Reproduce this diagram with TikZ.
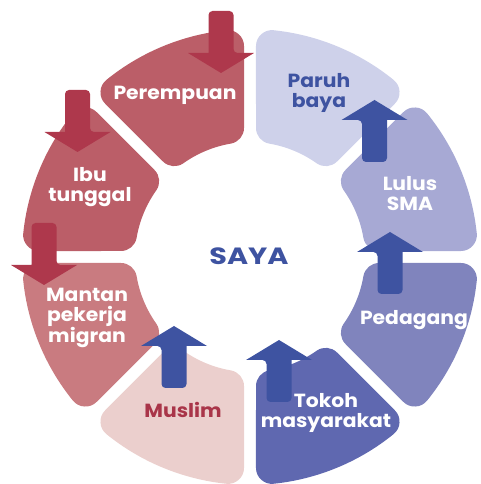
\documentclass[tikz,border=0pt]{standalone}
\usepackage{fontspec}
\setmainfont{Poppins}
\definecolor{redA}{HTML}{BB5E68}
\definecolor{redB}{HTML}{C97B80}
\definecolor{redC}{HTML}{EBCFCD}
\definecolor{redArrow}{HTML}{AE384C}
\definecolor{redText}{HTML}{A93549}
\definecolor{blueA}{HTML}{CED1EA}
\definecolor{blueB}{HTML}{A7A9D4}
\definecolor{blueC}{HTML}{8084BD}
\definecolor{blueD}{HTML}{5F68B0}
\definecolor{blueArrow}{HTML}{3E53A1}
% ring geometry: outer/inner radius already reduced by the corner radius (16),
% radial edges pushed in by half the gap (6) plus the corner radius
\def\ro{212}
\def\ri{131}
\def\offs{22}
% one rounded ring sector between two angles
\newcommand\ringseg[3]{%
  \path[seg=#1] ({#2+asin(\offs/\ro)}:\ro)
    arc[start angle={#2+asin(\offs/\ro)}, end angle={#3-asin(\offs/\ro)}, radius=\ro]
    -- ({#3-asin(\offs/\ri)}:\ri)
    arc[start angle={#3-asin(\offs/\ri)}, end angle={#2+asin(\offs/\ri)}, radius=\ri]
    -- cycle;}
% thick block arrow, tip at (#2,#3), turned by #4 degrees (0 = up)
\newcommand\blockarrow[4]{%
  \begin{scope}[shift={(#2,#3)}, rotate=#4]
    \fill[#1] (0,0) -- (33,-20) -- (12.5,-20) [rounded corners=4pt]
      -- (12.5,-62) -- (-12.5,-62) -- (-12.5,-20) [sharp corners]
      -- (-33,-20) -- cycle;
  \end{scope}}
\begin{document}
\begin{tikzpicture}[x=1pt,y=1pt,
  seg/.style={fill=#1, draw=#1, line width=32pt, line join=round},
  lbl/.style={font=\fontsize{19}{20}\selectfont\bfseries, text=white,
    align=center, inner sep=0pt, xscale=1.07},
  hub/.style={font=\fontsize{23.5}{26}\selectfont\bfseries, text=blueArrow,
    inner sep=0pt, xscale=1.22}]
\useasboundingbox (0,0) rectangle (480,484);
\begin{scope}[shift={(250,227)}]
  \ringseg{redA}{90}{135}
  \ringseg{blueA}{45}{90}
  \ringseg{blueB}{0}{45}
  \ringseg{blueC}{-45}{0}
  \ringseg{blueD}{-90}{-45}
  \ringseg{redC}{-135}{-90}
  \ringseg{redB}{180}{225}
  \ringseg{redA}{135}{180}
\end{scope}
% arrows between the stages
\blockarrow{redArrow}{221}{411}{180}
\blockarrow{redArrow}{77.5}{332}{180}
\blockarrow{redArrow}{44}{199}{180}
\blockarrow{blueArrow}{374.5}{384}{0}
\blockarrow{blueArrow}{390}{252}{0}
\blockarrow{blueArrow}{279}{144}{0}
\blockarrow{blueArrow}{174}{158}{0}
% labels
\node[lbl] (perempuan) at (175,389) {Perempuan};
\node[lbl] (ibu) at (90,297) {Ibu\\tunggal};
\node[lbl] (mantan) at (87,166) {Mantan\\pekerja\\migran};
\node[lbl, text=redText] (muslim) at (183,74) {Muslim};
\node[lbl] (tokoh) at (326,71) {Tokoh\\masyarakat};
\node[lbl] (pedagang) at (414,164) {Pedagang};
\node[lbl] (lulus) at (410,290) {Lulus\\SMA};
\node[lbl, text=blueArrow] (paruh) at (319,391) {Paruh\\baya};
\node[hub] (saya) at (249,228) {SAYA};
\end{tikzpicture}
\end{document}
